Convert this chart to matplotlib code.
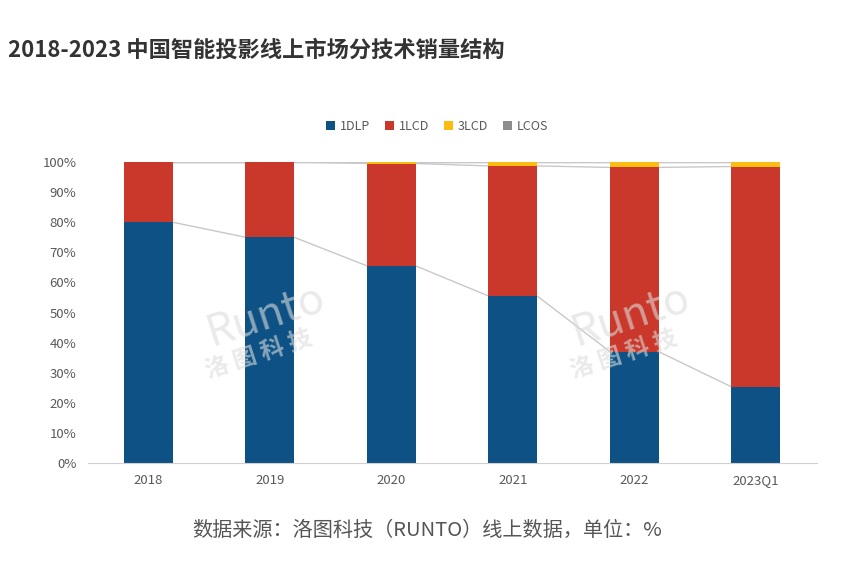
import numpy as np
import matplotlib.pyplot as plt

plt.rcParams['font.family'] = ['Noto Sans CJK SC', 'DejaVu Sans']

# data (share of online sales, %)
years = ['2018', '2019', '2020', '2021', '2022', '2023Q1']
dlp = [80.0, 75.0, 65.5, 55.5, 37.0, 25.3]
lcd = [20.0, 25.0, 34.0, 43.2, 61.2, 73.2]
lcd3 = [0.0, 0.0, 0.5, 1.3, 1.8, 1.5]
lcos = [0.0, 0.0, 0.0, 0.0, 0.0, 0.0]

names = ['1DLP', '1LCD', '3LCD', 'LCOS']
colors = ['#0e5285', '#c9382a', '#fbbd12', '#8c8c8c']
series = [dlp, lcd, lcd3, lcos]

fig = plt.figure(figsize=(8.55, 5.67), dpi=100)
ax = fig.add_axes([87.5 / 855, 1 - 463 / 567, 729 / 855, 301 / 567])

x = np.arange(len(years))
w = 0.4
bottom = np.zeros(len(years))
for vals, name, c in zip(series, names, colors):
    vals = np.array(vals)
    ax.bar(x, vals, w, bottom=bottom, color=c, label=name, zorder=2)
    top = bottom + vals
    # series lines between bars
    for i in range(len(years) - 1):
        ax.plot([x[i] + w / 2, x[i + 1] - w / 2], [top[i], top[i + 1]],
                color='#c8c8c8', lw=1, zorder=1)
    bottom = top

ax.set_xlim(-0.5, len(years) - 0.5)
ax.set_ylim(0, 100)
ax.set_yticks(np.arange(0, 101, 10))
ax.set_yticklabels([f'{v}%' for v in range(0, 101, 10)])
ax.set_xticks(x)
ax.set_xticklabels(years)
ax.tick_params(length=0, labelsize=9.5, colors='#595959', pad=8)
for s in ['top', 'right', 'left']:
    ax.spines[s].set_visible(False)
ax.spines['bottom'].set_color('#d0d0d0')

# watermark
for wx, wy in [(0.245, 0.43), (0.745, 0.43)]:
    ax.text(wx, wy + 0.06, 'Runto', transform=ax.transAxes, fontsize=31,
            color='#dcdcdc', alpha=0.6, rotation=18, ha='center', va='center',
            style='italic', zorder=3)
    ax.text(wx - 0.01, wy - 0.07, '洛 图 科 技', transform=ax.transAxes, fontsize=17,
            color='#dcdcdc', alpha=0.6, rotation=18, ha='center', va='center',
            fontweight='bold', zorder=3)

fig.legend(loc='center', bbox_to_anchor=(437 / 855, 1 - 126 / 567), ncol=4,
           frameon=False, fontsize=9, handlelength=0.7, handleheight=0.7,
           handletextpad=0.4, columnspacing=1.2, labelcolor='#595959')

fig.text(8 / 855, 1 - 50 / 567, '2018-2023 中国智能投影线上市场分技术销量结构',
         fontsize=16, fontweight='bold', color='#333333', va='center')
fig.text(427 / 855, 1 - 530 / 567, '数据来源：洛图科技（RUNTO）线上数据，单位：%',
         fontsize=14.5, color='#555555', ha='center', va='center')

fig.savefig('out.png', dpi=100)
